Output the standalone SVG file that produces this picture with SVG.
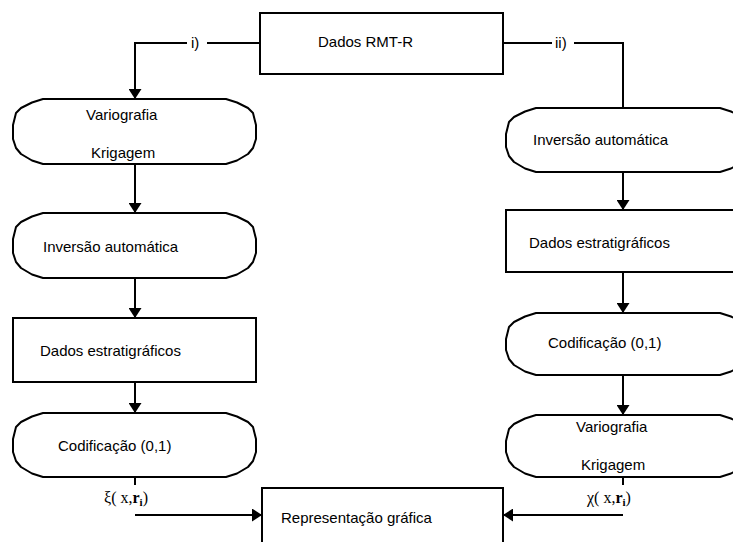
<svg xmlns="http://www.w3.org/2000/svg" width="733" height="542" viewBox="0 0 733 542">
<defs>
<style>
.box{fill:#fff;stroke:#000;stroke-width:2}
.node{fill:#fff;stroke:#000;stroke-width:2;stroke-linejoin:round}
.lbl{font-family:"Liberation Sans",Arial,sans-serif;font-size:15px;fill:#000}
.math{font-family:"Liberation Serif","Times New Roman",serif;font-size:16px;fill:#000}
.edge{fill:none;stroke:#000;stroke-width:2}
.arr{marker-end:url(#ah)}
</style>
<marker id="ah" markerUnits="userSpaceOnUse" markerWidth="11" markerHeight="13" refX="10" refY="6.5" orient="auto">
<path d="M0,0 L10,6.5 L0,13 z" fill="#000"/>
</marker>
</defs>
<rect width="733" height="542" fill="#fff"/>

<g id="connectors">
<path class="edge" d="M260,43 H207"/>
<path class="edge arr" d="M187,43 H135 V99"/>
<path class="edge" d="M503,43 H552"/>
<path class="edge" d="M574,43 H623 V108"/>
<path class="edge arr" d="M135,164 V213"/>
<path class="edge arr" d="M135,278 V318"/>
<path class="edge arr" d="M135,382 V413"/>
<path class="edge" d="M135,477 V485"/>
<path class="edge arr" d="M135,515 H262"/>
<path class="edge arr" d="M623,172 V210"/>
<path class="edge arr" d="M623,272 V313"/>
<path class="edge arr" d="M623,375 V415"/>
<path class="edge" d="M623,477 V485"/>
<path class="edge arr" d="M623,515 H503"/>
<text class="lbl" x="191" y="48">i)</text>
<text class="lbl" x="555" y="48">ii)</text>
<text class="math" x="104" y="503">ξ( x,<tspan font-weight="bold">r</tspan><tspan font-weight="bold" font-size="11" dy="3">i</tspan><tspan dy="-3">)</tspan></text>
<text class="math" x="587" y="503">χ( x,<tspan font-weight="bold">r</tspan><tspan font-weight="bold" font-size="11" dy="3">i</tspan><tspan dy="-3">)</tspan></text>
</g>

<g id="dados-rmt">
<rect class="box" x="260" y="13" width="243" height="61"/>
<text class="lbl" x="318" y="47">Dados RMT-R</text>
</g>

<g id="l-variografia">
<path class="node" d="M43,99 H226 l11,3.5 l11,5.5 l5,5 l3,12 V139 l-3,9 l-5,6 l-11,6.5 l-11,3.5 H43 l-11,-3.5 l-11,-6.5 l-5,-6 l-3,-9 V125 l3,-12 l5,-5 l11,-5.5 z"/>
<text class="lbl" x="86" y="120">Variografia</text>
<text class="lbl" x="91" y="158">Krigagem</text>
</g>

<g id="l-inversao">
<path class="node" d="M43,213 H226 l11,3.5 l11,5.5 l5,5 l3,12 V253 l-3,9 l-5,6 l-11,6.5 l-11,3.5 H43 l-11,-3.5 l-11,-6.5 l-5,-6 l-3,-9 V239 l3,-12 l5,-5 l11,-5.5 z"/>
<text class="lbl" x="43" y="252">Inversão automática</text>
</g>

<g id="l-dados-estrat">
<rect class="box" x="13" y="318" width="243" height="64"/>
<text class="lbl" x="40" y="356">Dados estratigráficos</text>
</g>

<g id="l-codificacao">
<path class="node" d="M43,413 H226 l11,3.5 l11,5.5 l5,5 l3,12 V452 l-3,9 l-5,6 l-11,6.5 l-11,3.5 H43 l-11,-3.5 l-11,-6.5 l-5,-6 l-3,-9 V439 l3,-12 l5,-5 l11,-5.5 z"/>
<text class="lbl" x="58" y="451">Codificação (0,1)</text>
</g>

<g id="r-inversao">
<path class="node" d="M536,108 H720 l11,3.5 l11,5.5 l5,5 l3,12 V147 l-3,9 l-5,6 l-11,6.5 l-11,3.5 H536 l-11,-3.5 l-11,-6.5 l-5,-6 l-3,-9 V134 l3,-12 l5,-5 l11,-5.5 z"/>
<text class="lbl" x="533" y="145">Inversão automática</text>
</g>

<g id="r-dados-estrat">
<rect class="box" x="506" y="210" width="250" height="62"/>
<text class="lbl" x="529" y="248">Dados estratigráficos</text>
</g>

<g id="r-codificacao">
<path class="node" d="M536,313 H720 l11,3.5 l11,5.5 l5,5 l3,12 V350 l-3,9 l-5,6 l-11,6.5 l-11,3.5 H536 l-11,-3.5 l-11,-6.5 l-5,-6 l-3,-9 V339 l3,-12 l5,-5 l11,-5.5 z"/>
<text class="lbl" x="548" y="348">Codificação (0,1)</text>
</g>

<g id="r-variografia">
<path class="node" d="M536,415 H720 l11,3.5 l11,5.5 l5,5 l3,12 V452 l-3,9 l-5,6 l-11,6.5 l-11,3.5 H536 l-11,-3.5 l-11,-6.5 l-5,-6 l-3,-9 V441 l3,-12 l5,-5 l11,-5.5 z"/>
<text class="lbl" x="576" y="432">Variografia</text>
<text class="lbl" x="581" y="470">Krigagem</text>
</g>

<g id="representacao">
<rect class="box" x="262" y="488" width="241" height="70"/>
<text class="lbl" x="281" y="523">Representação gráfica</text>
</g>
</svg>
